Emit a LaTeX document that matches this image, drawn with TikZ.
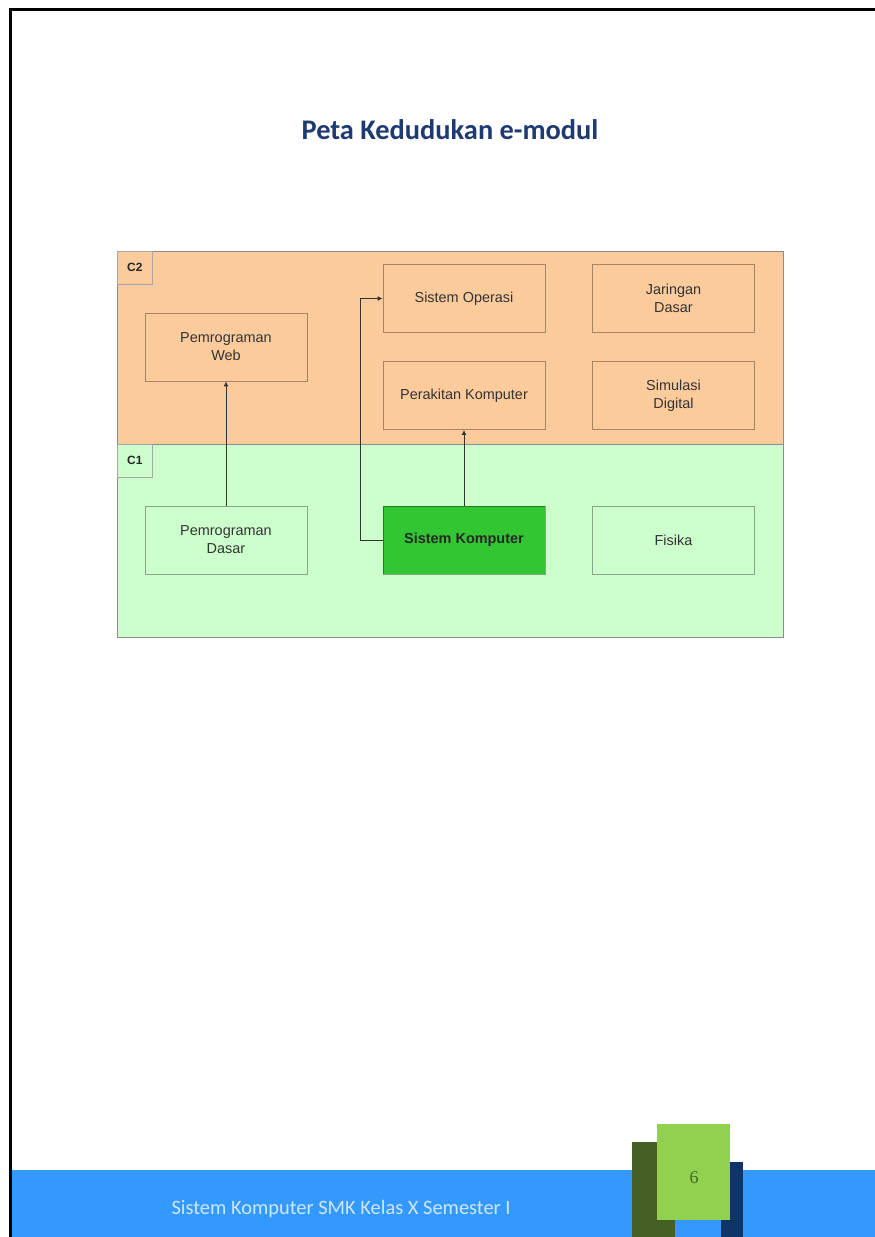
\documentclass[tikz,border=0pt]{standalone}
\usepackage{fontspec}
\setmainfont{Liberation Sans}
\newfontfamily\calib{Carlito}
\newfontfamily\serifnum{Liberation Serif}
\usetikzlibrary{arrows.meta}
\definecolor{cTwo}{HTML}{FCCB9C}
\definecolor{cOne}{HTML}{CCFFCC}
\definecolor{skgreen}{HTML}{33C633}
\definecolor{titleblue}{HTML}{1F3A70}
\definecolor{bandblue}{HTML}{3399FF}
\definecolor{foottext}{HTML}{CFE6FF}
\definecolor{darkgr}{HTML}{455F24}
\definecolor{lightgr}{HTML}{92D050}
\definecolor{navybox}{HTML}{0F3566}
\definecolor{numgr}{HTML}{3F6A1E}
\definecolor{boxtext}{HTML}{333333}
\tikzset{
  region/.style={rectangle, draw=black!45, line width=0.9bp, inner sep=0pt, outer sep=0pt, anchor=north west},
  tagbox/.style={rectangle, draw=black!35, line width=0.7bp, inner sep=0pt, anchor=north west, minimum width=35bp, minimum height=33bp, font=\bfseries\fontsize{12}{14}\selectfont, text=black!85},
  modbox/.style={rectangle, draw=black, draw opacity=0.35, line width=0.9bp, minimum width=162bp, minimum height=68bp, inner sep=2pt, align=center, text=boxtext, font=\fontsize{14.5}{18}\selectfont},
  conn/.style={draw=black!80, line width=0.9bp, -{Latex[length=5bp,width=5bp]}},
}
\begin{document}
\begin{tikzpicture}[x=1bp,y=-1bp]
\useasboundingbox (0,0) rectangle (875,1237);
\fill[white] (0,0) rectangle (875,1237);
% page frame
\draw[black, line width=3bp] (10,1237) -- (10,9) -- (875,9);
% title
\node[font=\calib\bfseries\fontsize{28.5}{34}\selectfont, text=titleblue] (title) at (450,130) {Peta Kedudukan e-modul};
% regions
\node[region, fill=cTwo, minimum width=666bp, minimum height=193bp] (c2) at (117,251) {};
\node[region, fill=cOne, minimum width=666bp, minimum height=193bp] (c1) at (117,444) {};
\node[tagbox] (c2tag) at (117,251) {C2};
\node[tagbox] (c1tag) at (117,444) {C1};
% boxes
\node[modbox] (pweb) at (226,347) {Pemrograman\\Web};
\node[modbox] (sop) at (464,298.5) {Sistem Operasi};
\node[modbox] (jar) at (673.5,298.5) {Jaringan\\Dasar};
\node[modbox] (perak) at (464,395.5) {Perakitan Komputer};
\node[modbox] (sim) at (673.5,395.5) {Simulasi\\Digital};
\node[modbox] (pdas) at (226,540) {Pemrograman\\Dasar};
\node[modbox, fill=skgreen, text=black!85, font=\bfseries\fontsize{14.5}{18}\selectfont] (skom) at (464,540) {Sistem Komputer};
\node[modbox] (fis) at (673.5,540) {Fisika};
% connectors
\draw[conn] (pdas.north) -- (pweb.south);
\draw[conn] (skom.north) -- (perak.south);
\draw[conn] (skom.west) -- ++(-22,0) |- (sop.west);
% footer
\fill[bandblue] (11.5,1170) rectangle (875,1237);
\draw[black, line width=3bp] (10,1170) -- (10,1237);
\node[font=\calib\fontsize{20.5}{24}\selectfont, text=foottext, anchor=west] (foot) at (168,1209) {Sistem Komputer SMK Kelas X Semester I};
\fill[darkgr] (632,1142) rectangle (675,1237);
\fill[navybox] (721,1162) rectangle (743,1237);
\node[rectangle, fill=lightgr, inner sep=0pt, minimum width=73bp, minimum height=96bp] (pbox) at (693.5,1172) {};
\node[font=\serifnum\fontsize{18}{20}\selectfont, text=numgr] (pnum) at (694,1178) {6};
\end{tikzpicture}
\end{document}
